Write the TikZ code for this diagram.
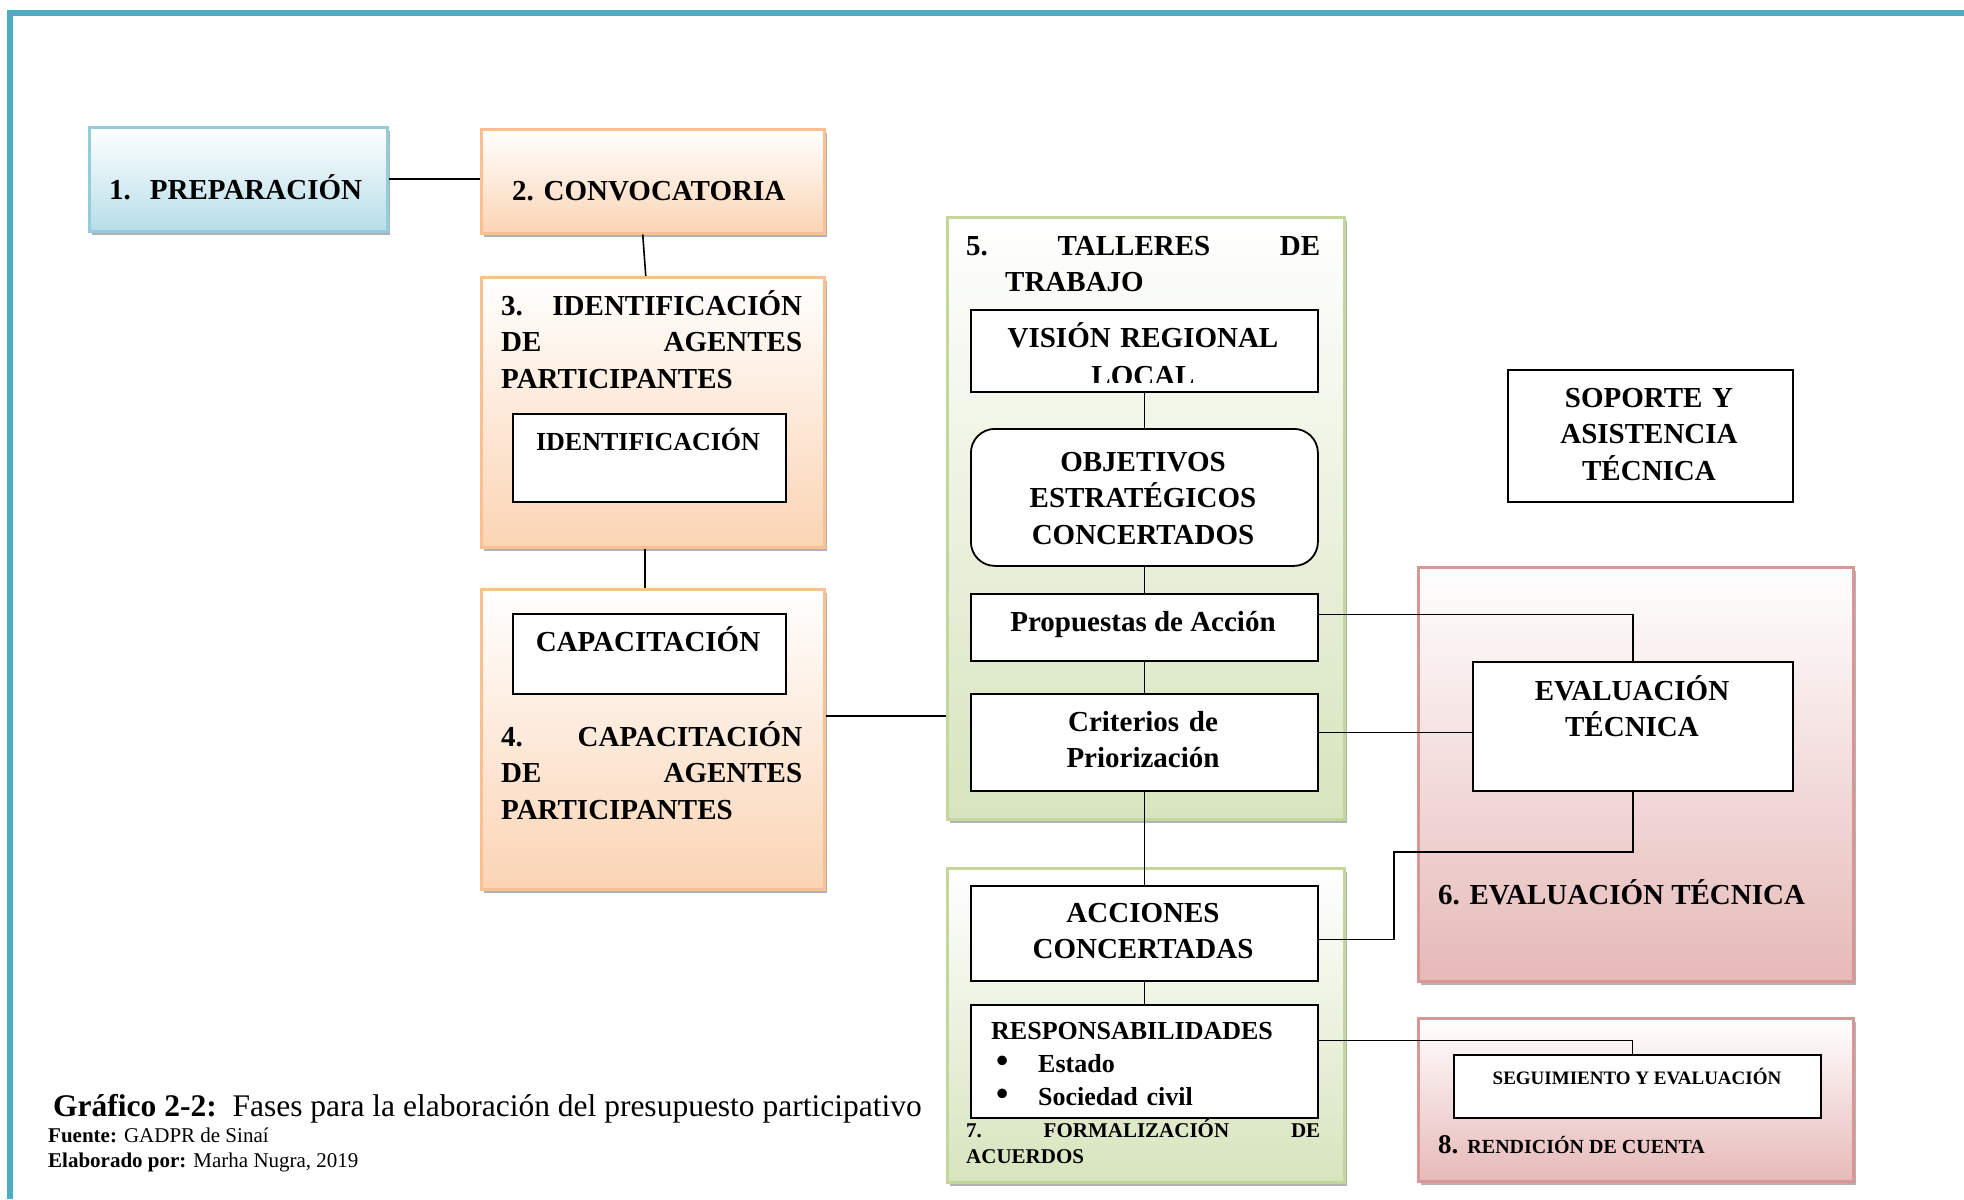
\documentclass[tikz,border=0pt]{standalone}
\usepackage{fontspec}
\setmainfont{Liberation Serif}
\usetikzlibrary{shadows}
\definecolor{frameteal}{HTML}{4BACC6}
\definecolor{blueedge}{HTML}{93CDDD}
\definecolor{bluefill}{HTML}{B7DDE8}
\definecolor{orangeedge}{HTML}{FAC090}
\definecolor{orangefill}{HTML}{FBD4B4}
\definecolor{greenedge}{HTML}{C3D69B}
\definecolor{greenfill}{HTML}{D7E4BD}
\definecolor{rededge}{HTML}{D99694}
\definecolor{redfill}{HTML}{E6B9B8}
\newcommand{\listdot}{\makebox[47pt][l]{\hspace*{5pt}\scalebox{1.35}{\textbullet}}}

\begin{document}
\begin{tikzpicture}[x=1pt,y=-1pt,
    phase/.style 2 args={draw=#1,line width=2.5pt,top color=white,bottom color=#2,
      anchor=north west,inner sep=0pt,
      drop shadow={shadow xshift=3pt,shadow yshift=-4pt,fill=black!60,opacity=.5}},
    inbox/.style={draw=black,fill=white,line width=1.8pt,anchor=north west,inner sep=0pt},
    big/.style={font=\fontsize{29}{36.5}\selectfont\bfseries,inner sep=0pt},
    mid/.style={font=\fontsize{26}{33}\selectfont\bfseries,inner sep=0pt},
    small/.style={font=\fontsize{21}{26}\selectfont\bfseries,inner sep=0pt},
    link/.style={line width=1.6pt}]
    \useasboundingbox (0,0) rectangle (1964,1199);
    \fill[white] (0,0) rectangle (1964,1199);
    % page frame
    \fill[frameteal] (7,10) rectangle (1964,16);
    \fill[frameteal] (7,10) rectangle (13,1199);

    % phases
    \node[phase={blueedge}{bluefill},minimum width=298pt,minimum height=104pt] (prep) at (88,126) {};
    \node[phase={orangeedge}{orangefill},minimum width=343pt,minimum height=104pt] (conv) at (480,128) {};
    \node[phase={orangeedge}{orangefill},minimum width=343pt,minimum height=270pt] (ident) at (480,276) {};
    \node[phase={orangeedge}{orangefill},minimum width=343pt,minimum height=300pt] (capac) at (480,588) {};
    \node[phase={greenedge}{greenfill},minimum width=397pt,minimum height=602pt] (talleres) at (946,216) {};
    \node[phase={greenedge}{greenfill},minimum width=397pt,minimum height=314pt] (formal) at (946,867) {};
    \node[phase={rededge}{redfill},minimum width=435pt,minimum height=414pt] (evaluac) at (1417,566) {};
    \node[phase={rededge}{redfill},minimum width=435pt,minimum height=163pt] (rendic) at (1417,1017) {};

    % connectors
    \draw[link,line width=2.4pt] (prep.east) -- (prep.east -| conv.west);
    \draw[link] ([xshift=-10pt]conv.south) -- ([xshift=-7pt]ident.north);
    \draw[link] ([xshift=-8pt]ident.south) -- ([xshift=-8pt]capac.north);
    \draw[link] ([yshift=23pt]capac.east) -- ([yshift=23pt]capac.east -| talleres.west);

    % inner boxes
    \node[inbox,minimum width=273pt,minimum height=88pt] (identbox) at (512,413) {};
    \node[inbox,minimum width=273pt,minimum height=80pt] (capacbox) at (512,613) {};
    \node[inbox,minimum width=347pt,minimum height=82pt] (vision) at (970,309) {};
    \node[inbox,rounded corners=24pt,minimum width=347pt,minimum height=137pt] (objetivos) at (970,428) {};
    \node[inbox,minimum width=347pt,minimum height=67pt] (propuestas) at (970,593) {};
    \node[inbox,minimum width=347pt,minimum height=97pt] (criterios) at (970,693) {};
    \node[inbox,minimum width=347pt,minimum height=95pt] (acciones) at (970,885) {};
    \node[inbox,minimum width=347pt,minimum height=113pt] (respons) at (970,1004) {};
    \node[inbox,minimum width=285pt,minimum height=132pt] (soporte) at (1507,369) {};
    \node[inbox,minimum width=320pt,minimum height=129pt] (evaltec) at (1472,661) {};
    \node[inbox,minimum width=367pt,minimum height=63pt] (seguim) at (1453,1054) {};

    \draw[link] (vision) -- (objetivos);
    \draw[link] (objetivos) -- (propuestas);
    \draw[link] (propuestas) -- (criterios);
    \draw[link] (criterios) -- (acciones);
    \draw[link] (acciones) -- (respons);
    \draw[link] ([yshift=13pt]propuestas.east) -| (evaltec.north);
    \draw[link] ([yshift=10pt]criterios.east) -- ([yshift=10pt]criterios.east -| evaltec.west);
    \coordinate (elbow) at (1394,852);
    \draw[link] (evaltec.south) |- (elbow) |- ([yshift=-6pt]acciones.east);
    \draw[link] ([yshift=21pt]respons.east) -| ([xshift=-5pt]seguim.north);

    % texts
    \node[big,anchor=base west] (tprep) at (109,199) {1.\hspace{19pt}PREPARACIÓN};
    \node[big,anchor=base west] (tconv) at (512,200) {2. CONVOCATORIA};
    \node[big,anchor=base west,text width=301pt,align=left] (tident) at (501,315)
        {3.\hfill IDENTIFICACIÓN\\DE\hfill AGENTES\\PARTICIPANTES};
    \node[mid,anchor=base] (tidentbox) at (648,450) {IDENTIFICACIÓN};
    \node[big,anchor=base] (tcapacbox) at (648,651) {CAPACITACIÓN};
    \node[big,anchor=base west,text width=301pt,align=left] (tcapac) at (501,746)
        {4.\hfill CAPACITACIÓN\\DE\hfill AGENTES\\PARTICIPANTES};
    \node[big,anchor=base west,text width=354pt,align=left] (ttalleres) at (966,255)
        {5.\hfill TALLERES\hfill DE\\\hspace*{39pt}TRABAJO};
    \begin{scope}
        \clip (vision.north west) rectangle ([yshift=10pt]vision.south east);
        \node[big,anchor=base,text width=340pt,align=center] (tvision) at (1143,347)
            {VISIÓN REGIONAL\\[1.5pt]LOCAL};
    \end{scope}
    \node[big,anchor=base,text width=340pt,align=center] (tobjetivos) at (1143,471)
        {OBJETIVOS\\ESTRATÉGICOS\\CONCERTADOS};
    \node[big,anchor=base] (tpropuestas) at (1143,631) {Propuestas de Acción};
    \node[big,anchor=base,text width=340pt,align=center] (tcriterios) at (1143,731) {Criterios de\\Priorización};
    \node[big,anchor=base,text width=340pt,align=center] (tacciones) at (1143,922) {ACCIONES\\CONCERTADAS};
    \node[mid,anchor=base west,text width=320pt,align=left] (trespons) at (991,1039)
        {RESPONSABILIDADES\\\listdot Estado\\\listdot Sociedad civil};
    \node[small,anchor=base west,text width=354pt,align=left] (tformal) at (966,1137)
        {7.\hfill FORMALIZACIÓN\hfill DE\\ACUERDOS};
    \node[big,anchor=base,text width=280pt,align=center] (tsoporte) at (1649,407)
        {SOPORTE Y\\ASISTENCIA\\TÉCNICA};
    \node[big,anchor=base,text width=310pt,align=center] (tevaltec) at (1632,700) {EVALUACIÓN\\TÉCNICA};
    \node[big,anchor=base west] (tevaluac) at (1438,904) {6. EVALUACIÓN TÉCNICA};
    \node[font=\fontsize{19}{23}\selectfont\bfseries,inner sep=0pt,anchor=base] (tseguim) at (1637,1084)
        {SEGUIMIENTO Y EVALUACIÓN};
    \node[font=\bfseries,inner sep=0pt,anchor=base west] (trendic) at (1438,1153)
        {\fontsize{27}{30}\selectfont 8. \fontsize{20}{24}\selectfont RENDICIÓN DE CUENTA};

    % caption
    \node[font=\fontsize{31.5}{36}\selectfont,inner sep=0pt,anchor=base west] (caption) at (53,1116)
        {\textbf{Gráfico 2-2:}\ \ Fases para la elaboración del presupuesto participativo};
    \node[font=\fontsize{21}{25}\selectfont,inner sep=0pt,anchor=base west] (fuente) at (48,1142)
        {\textbf{Fuente:} GADPR de Sinaí};
    \node[font=\fontsize{21}{25}\selectfont,inner sep=0pt,anchor=base west] (autor) at (48,1167)
        {\textbf{Elaborado por:} Marha Nugra, 2019};
\end{tikzpicture}
\end{document}
